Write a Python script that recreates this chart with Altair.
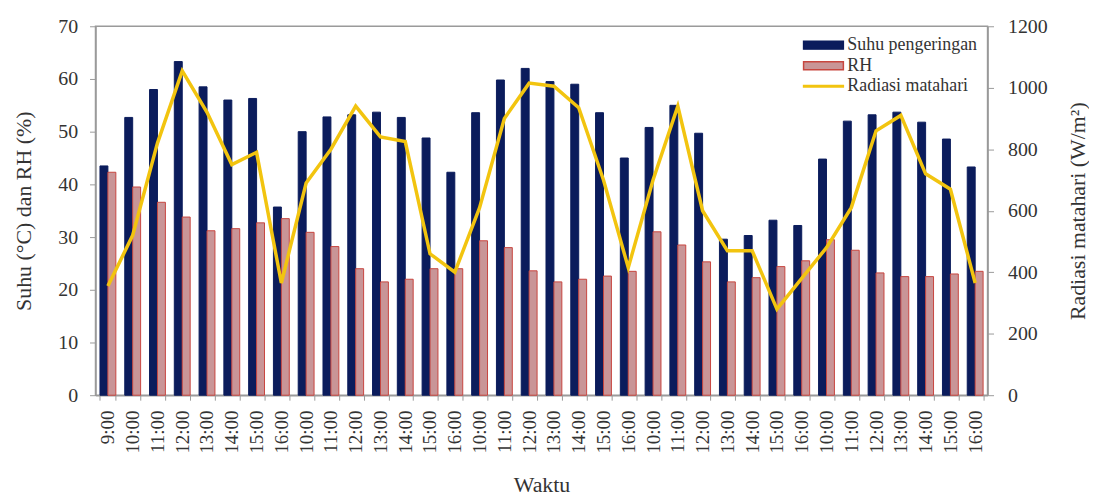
import json
import altair as alt
import pandas as pd

# ---- data ----
times = ["9:00", "10:00", "11:00", "12:00", "13:00", "14:00", "15:00", "16:00",
         "10:00", "11:00", "12:00", "13:00", "14:00", "15:00", "16:00",
         "10:00", "11:00", "12:00", "13:00", "14:00", "15:00", "16:00",
         "10:00", "11:00", "12:00", "13:00", "14:00", "15:00", "16:00",
         "10:00", "11:00", "12:00", "13:00", "14:00", "15:00", "16:00"]

suhu = [43.5, 52.7, 58.0, 63.3, 58.5, 56.0, 56.3, 35.7,
        50.0, 52.8, 53.2, 53.7, 52.7, 48.8, 42.3,
        53.6, 59.8, 62.0, 59.5, 59.0, 53.6, 45.0,
        50.8, 55.0, 49.7, 29.6, 30.3, 33.2, 32.2,
        44.8, 52.0, 53.2, 53.7, 51.8, 48.6, 43.3]

rh = [42.3, 39.5, 36.6, 33.8, 31.2, 31.6, 32.7, 33.5,
      30.9, 28.2, 24.0, 21.5, 22.0, 24.0, 24.0,
      29.3, 28.0, 23.6, 21.5, 22.0, 22.6, 23.5,
      31.0, 28.5, 25.3, 21.5, 22.3, 24.4, 25.5,
      29.5, 27.5, 23.2, 22.5, 22.5, 23.0, 23.5]

radiasi = [355, 520, 820, 1055, 920, 750, 790, 365,
           690, 800, 940, 840, 825, 460, 400,
           610, 900, 1015, 1005, 935, 700, 415,
           700, 940, 600, 470, 470, 280, 380,
           480, 610, 860, 910, 720, 670, 365]

series = ["Suhu pengeringan", "RH", "Radiasi matahari"]

# ---- styles ----
NAVY = "#0b1c5c"
PINK = "#c99597"
RED = "#c8463f"
YELLOW = "#f2c40f"
FONT = "Liberation Serif"
TXT = "#333333"
GRAY = "#9a9a9a"

idx = list(range(len(times)))
bars = pd.DataFrame({
    "idx": idx * 2,
    "series": [series[0]] * len(idx) + [series[1]] * len(idx),
    "value": suhu + rh,
})
line = pd.DataFrame({"idx": idx, "rad": radiasi})
leg = pd.DataFrame({"series": series})

label_expr = json.dumps(times) + "[datum.value]"

x_enc = alt.X(
    "idx:O",
    scale=alt.Scale(domain=idx, paddingInner=0.36, paddingOuter=0.18),
    axis=alt.Axis(title="Waktu", labelExpr=label_expr, labelAngle=270,
                  tickBand="extent", tickSize=5, labelPadding=10,
                  titlePadding=22, labelFontSize=19),
)

bar_layer = alt.Chart(bars).mark_bar(strokeWidth=1).encode(
    x=x_enc,
    xOffset=alt.XOffset("series:N", scale=alt.Scale(domain=series[:2])),
    y=alt.Y("value:Q", scale=alt.Scale(domain=[0, 70]),
            axis=alt.Axis(title="Suhu (°C) dan RH (%)", values=list(range(0, 71, 10)),
                          tickSize=6, labelPadding=12, titlePadding=22, grid=False)),
    fill=alt.condition("datum.series == 'RH'", alt.value(PINK), alt.value(NAVY)),
    stroke=alt.condition("datum.series == 'RH'", alt.value(RED), alt.value(NAVY)),
)

line_layer = alt.Chart(line).mark_line(color=YELLOW, strokeWidth=3.5).encode(
    x=alt.X("idx:O"),
    y=alt.Y("rad:Q", scale=alt.Scale(domain=[0, 1200]),
            axis=alt.Axis(orient="right", title="Radiasi matahari (W/m²)",
                          values=list(range(0, 1201, 200)), format="d", tickSize=6,
                          labelPadding=14, titlePadding=42, titleAngle=270,
                          grid=False)),
)

legend = alt.Legend(title=None, orient="none", legendX=721, legendY=8,
                    symbolSize=400, symbolStrokeWidth=1.5, labelFont=FONT,
                    labelFontSize=18, labelColor=TXT, labelOffset=13,
                    rowPadding=0.7, padding=0, symbolOpacity=1)

paths = ["M-2,-0.4H2V0.4H-2Z", "M-2,-0.4H2V0.4H-2Z", "M-2,-0.08H2V0.08H-2Z"]

legend_layer = alt.Chart(leg).mark_point(filled=True, opacity=0).encode(
    color=alt.Color("series:N", scale=alt.Scale(domain=series, range=[NAVY, PINK, YELLOW]),
                    legend=legend),
    stroke=alt.Stroke("series:N", scale=alt.Scale(domain=series, range=[NAVY, RED, YELLOW]),
                      legend=legend),
    shape=alt.Shape("series:N", scale=alt.Scale(domain=series, range=paths),
                    legend=legend),
)

chart = alt.layer(bar_layer, line_layer, legend_layer).resolve_scale(
    y="independent"
).properties(
    width=897, height=371,
    autosize=alt.AutoSizeParams(type="none"),
    padding={"left": 88, "top": 17, "right": 102, "bottom": 100},
).configure_view(
    stroke=GRAY, strokeWidth=1.5
).configure_axis(
    labelFont=FONT, titleFont=FONT, labelFontSize=20, labelColor=TXT,
    titleFontSize=22, titleFontWeight="normal",
    titleColor=TXT, domainColor=GRAY, tickColor=GRAY, domainWidth=1.5,
)

chart.save("out.html", embed_options={"renderer": "svg", "actions": False})
